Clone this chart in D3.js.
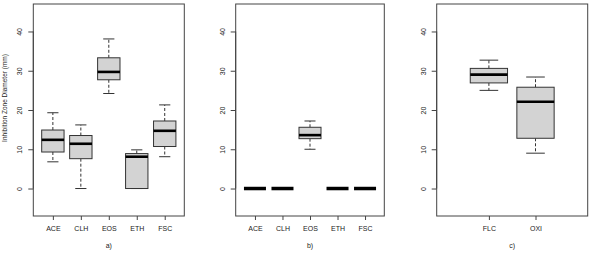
<!DOCTYPE html>
<html>
<head>
<meta charset="utf-8">
<script src="https://cdn.jsdelivr.net/npm/d3@7"></script>
<style>
  body { margin: 0; background: #fff; }
  svg { display: block; }
  text { font-family: "Liberation Sans", Arial, sans-serif; fill: #222; }
</style>
</head>
<body>
<div id="my_dataviz"></div>
<script>

// five-number summaries: [min, q1, median, q3, max]
var cats_a = ["ACE", "CLH", "EOS", "ETH", "FSC"];
var stats_a = [
    [6.8, 9.3, 12.4, 14.9, 19.3],
    [0, 7.6, 11.4, 13.5, 16.2],
    [24.2, 27.7, 29.7, 33.3, 38.1],
    [0, 0, 8.1, 8.9, 9.85],
    [8.1, 10.7, 14.7, 17.2, 21.3]
];

var cats_b = ["ACE", "CLH", "EOS", "ETH", "FSC"];
var stats_b = [
    [0, 0, 0, 0, 0],
    [0, 0, 0, 0, 0],
    [10.0, 12.7, 13.6, 15.6, 17.2],
    [0, 0, 0, 0, 0],
    [0, 0, 0, 0, 0]
];

var cats_c = ["FLC", "OXI"];
var stats_c = [
    [25.0, 26.9, 29.0, 30.6, 32.7],
    [9.0, 12.8, 22.1, 25.8, 28.4]
];

var y_ticks = [0, 10, 20, 30, 40];
var y_title = "Inhibition Zone Diameter (mm)";

var W = 605, H = 258;

var svg = d3.select("#my_dataviz")
    .append("svg")
    .attr("width", W)
    .attr("height", H);

var top_y = 4, bottom_y = 216;

var y = d3.scaleLinear()
    .domain([-7, 47])
    .range([bottom_y, top_y]);

function draw_panel(cats, stats, left, right, xdom, caption, with_title) {
    var x = d3.scaleLinear()
        .domain(xdom)
        .range([left, right]);
    var bw = (x(1.4) - x(1));   // half of box width (0.8 units)
    var g = svg.append("g");

    // boxes
    stats.forEach(function (s, i) {
        var cx = x(i + 1);
        // whiskers
        g.append("line")
            .attr("x1", cx).attr("x2", cx)
            .attr("y1", y(s[3])).attr("y2", y(s[4]))
            .attr("stroke", "#333").attr("stroke-width", 1)
            .attr("stroke-dasharray", "3,2");
        g.append("line")
            .attr("x1", cx).attr("x2", cx)
            .attr("y1", y(s[1])).attr("y2", y(s[0]))
            .attr("stroke", "#333").attr("stroke-width", 1)
            .attr("stroke-dasharray", "3,2");
        // staples
        [s[0], s[4]].forEach(function (v) {
            g.append("line")
                .attr("x1", cx - bw / 2).attr("x2", cx + bw / 2)
                .attr("y1", y(v)).attr("y2", y(v))
                .attr("stroke", "#333").attr("stroke-width", 1);
        });
        g.append("rect")
            .attr("x", cx - bw)
            .attr("y", y(s[3]))
            .attr("width", bw * 2)
            .attr("height", Math.max(0, y(s[1]) - y(s[3])))
            .attr("fill", "#d3d3d3")
            .attr("stroke", "#333")
            .attr("stroke-width", 1);
        g.append("line")
            .attr("x1", cx - bw).attr("x2", cx + bw)
            .attr("y1", y(s[2])).attr("y2", y(s[2]))
            .attr("stroke", "#000").attr("stroke-width", s[3] - s[1] == 0 ? 3.5 : 2.6);
    });

    // frame
    g.append("rect")
        .attr("x", left).attr("y", top_y)
        .attr("width", right - left).attr("height", bottom_y - top_y)
        .attr("fill", "none").attr("stroke", "#444").attr("stroke-width", 1);

    // y axis
    var ya = g.append("g")
        .attr("transform", "translate(" + left + ",0)")
        .call(d3.axisLeft(y).tickValues(y_ticks).tickSize(5).tickPadding(0));
    ya.select(".domain")
        .attr("d", "M0," + y(0) + "V" + y(40))
        .attr("stroke", "#444");
    ya.selectAll(".tick line").attr("stroke", "#444");
    ya.selectAll(".tick text")
        .attr("x", 0).attr("dy", 0)
        .attr("transform", "translate(-11,0) rotate(-90)")
        .attr("text-anchor", "middle")
        .style("font-size", "7px")
        .style("font-family", "Liberation Sans, Arial, sans-serif")
        .attr("fill", "#222");

    // x axis
    var xa = g.append("g")
        .attr("transform", "translate(0," + bottom_y + ")")
        .call(d3.axisBottom(x)
            .tickValues(cats.map(function (d, i) { return i + 1; }))
            .tickFormat(function (d) { return cats[d - 1]; })
            .tickSize(4).tickPadding(6));
    xa.select(".domain").remove();
    xa.selectAll(".tick line").attr("stroke", "#444");
    xa.selectAll(".tick text")
        .style("font-size", "7px")
        .style("font-family", "Liberation Sans, Arial, sans-serif")
        .attr("fill", "#222");

    g.append("text")
        .attr("x", (left + right) / 2)
        .attr("y", 248)
        .attr("text-anchor", "middle")
        .style("font-size", "7px")
        .text(caption);

    if (with_title) {
        g.append("text")
            .attr("transform", "translate(" + (left - 26) + ",98) rotate(-90)")
            .attr("text-anchor", "middle")
            .style("font-size", "6.5px")
            .text(y_title);
    }
}

draw_panel(cats_a, stats_a, 33.3, 184.3, [0.3, 5.7], "a)", true);
draw_panel(cats_b, stats_b, 235.7, 384.3, [0.3, 5.7], "b)", false);
draw_panel(cats_c, stats_c, 436.7, 587.7, [-0.12, 3.12], "c)", false);

</script>
</body>
</html>
